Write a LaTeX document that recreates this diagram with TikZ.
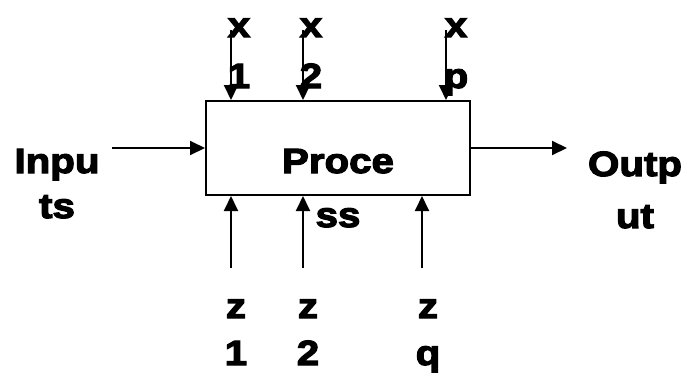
\documentclass[tikz,border=0pt]{standalone}
\usepackage{fontspec}
\usetikzlibrary{arrows.meta}
% heavy, wide sans for every label
\newfontfamily\heavy{Liberation Sans}[FakeBold=3.5, FakeStretch=1.15]
% two stacked lines; #3 = extra gap beyond the 35pt line pitch
\newcommand\twoline[3]{\begin{tabular}[t]{@{}c@{}}#1\\[#3]#2\end{tabular}}
\begin{document}
\begin{tikzpicture}[x=1pt, y=-1pt,
  lbl/.style={inner sep=0pt, anchor=base, font=\heavy\bfseries\fontsize{35}{35}\selectfont},
  flow/.style={line width=2pt, -{Triangle[length=15pt, width=14pt]}},
  procbox/.style={draw, line width=2pt, minimum width=264pt, minimum height=94pt, inner sep=0pt}]
\useasboundingbox (0,0) rectangle (688,378);

% the process block
\node[procbox] (proc) at (338,148) {};
\node[lbl] (ptext) at (338,173) {\twoline{Proce}{ss}{19pt}};

% inputs and outputs
\node[lbl] (inp) at (57,173) {\twoline{Inpu}{ts}{10pt}};
\node[lbl] (outp) at (635,176) {\twoline{Outp}{ut}{17pt}};
\coordinate (inS) at (112,148);
\coordinate (outE) at (567,148);
\draw[flow] (inS) -- (inS -| proc.west);
\draw[flow] (proc.east |- outE) -- (outE);

% controllable inputs x
\node[lbl] (x1) at (239,37) {\twoline{x}{1}{16pt}};
\node[lbl] (x2) at (311,37) {\twoline{x}{2}{16pt}};
\node[lbl] (xp) at (456,37) {\twoline{x}{p}{16pt}};
\coordinate (x1s) at (231,30);
\coordinate (x2s) at (303,30);
\coordinate (xps) at (446,30);
\draw[flow] (x1s) -- (x1s |- proc.north);
\draw[flow] (x2s) -- (x2s |- proc.north);
\draw[flow] (xps) -- (xps |- proc.north);

% uncontrollable factors z
\node[lbl] (z1) at (236,318) {\twoline{z}{1}{12pt}};
\node[lbl] (z2) at (308,318) {\twoline{z}{2}{12pt}};
\node[lbl] (zq) at (428,318) {\twoline{z}{q}{12pt}};
\coordinate (z1s) at (231,268);
\coordinate (z2s) at (303,268);
\coordinate (zqs) at (422,268);
\draw[flow] (z1s) -- (z1s |- proc.south);
\draw[flow] (z2s) -- (z2s |- proc.south);
\draw[flow] (zqs) -- (zqs |- proc.south);
\end{tikzpicture}
\end{document}
